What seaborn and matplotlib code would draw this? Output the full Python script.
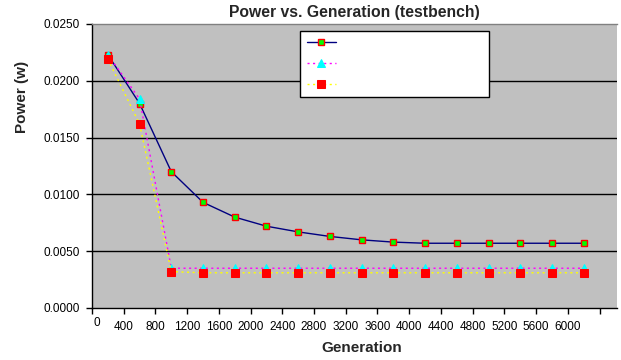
import matplotlib
matplotlib.use("Agg")
import matplotlib.pyplot as plt
import matplotlib.transforms as mtransforms
import seaborn as sns
import pandas as pd

generation = [200, 600, 1000, 1400, 1800, 2200, 2600, 3000, 3400, 3800,
              4200, 4600, 5000, 5400, 5800, 6200]
series_a = [0.0223, 0.0180, 0.0120, 0.0093, 0.0080, 0.0072, 0.0067, 0.0063,
            0.0060, 0.0058, 0.0057, 0.0057, 0.0057, 0.0057, 0.0057, 0.0057]
series_b = [0.0223, 0.0184, 0.0035, 0.0035, 0.0035, 0.0035, 0.0035, 0.0035,
            0.0035, 0.0035, 0.0035, 0.0035, 0.0035, 0.0035, 0.0035, 0.0035]
series_c = [0.0219, 0.0162, 0.0032, 0.0031, 0.0031, 0.0031, 0.0031, 0.0031,
            0.0031, 0.0031, 0.0031, 0.0031, 0.0031, 0.0031, 0.0031, 0.0031]
x_ticks = [0, 400, 800, 1200, 1600, 2000, 2400, 2800, 3200, 3600, 4000,
           4400, 4800, 5200, 5600, 6000, 6400]
x_tick_labels = [str(t) for t in x_ticks[:-1]] + [""]
y_ticks = [0.0, 0.005, 0.010, 0.015, 0.020, 0.025]

sns.set_theme(style="white")
plt.rcParams["font.family"] = ["Liberation Sans", "DejaVu Sans"]

df = pd.DataFrame({"gen": generation, "a": series_a, "b": series_b, "c": series_c})

fig = plt.figure(figsize=(6.21, 3.6), dpi=100)
ax = fig.add_axes([92 / 621, 1 - 308 / 360, (617 - 92) / 621, (308 - 24) / 360])
ax.set_facecolor("#C0C0C0")

sns.lineplot(data=df, x="gen", y="a", ax=ax, color="#000080", linewidth=1.0,
             marker="s", markersize=5, markerfacecolor="#00FF00",
             markeredgecolor="#FF0000", markeredgewidth=1.0, zorder=3)
sns.lineplot(data=df, x="gen", y="b", ax=ax, color="#FF00FF", linewidth=1.0,
             linestyle=(0, (1.5, 2.5)), marker="^", markersize=5.5,
             markerfacecolor="#00FFFF", markeredgecolor="#00FFFF", zorder=4)
sns.lineplot(data=df, x="gen", y="c", ax=ax, color="#FFFF00", linewidth=1.0,
             linestyle=(0, (1.5, 2.5)), marker="s", markersize=5.5,
             markerfacecolor="#FF0000", markeredgecolor="#FF0000", zorder=5)
series_lines = list(ax.lines[:3])

ax.set_xlim(0, 6620)
ax.set_ylim(0, 0.025)
ax.set_yticks(y_ticks)
ax.set_yticklabels([f"{v:.4f}" for v in y_ticks])
ax.set_xticks(x_ticks)
ax.set_xticklabels(x_tick_labels)
ax.set_xlabel("")
ax.set_ylabel("")
for y in y_ticks[1:-1]:
    ax.axhline(y, color="black", linewidth=1.0, zorder=1)

ax.tick_params(axis="both", which="both", direction="out", length=4, width=1,
               color="black", labelsize=8.5, labelcolor="black", bottom=True, left=True)
ax.tick_params(axis="y", pad=5)
ax.tick_params(axis="x", pad=5)
for side in ["left", "bottom"]:
    ax.spines[side].set_color("black")
    ax.spines[side].set_linewidth(1.0)
ax.spines["top"].set_color("#808080")
ax.spines["top"].set_linewidth(1.0)
ax.spines["right"].set_visible(False)

# the first x tick label sits a little higher and to the right in the reference
lbl0 = ax.get_xticklabels()[0]
lbl0.set_transform(lbl0.get_transform() +
                   mtransforms.ScaledTranslation(5 / 100, 3 / 100, fig.dpi_scale_trans))

# legend box (no text labels in the reference)
aw, ah = 525.0, 284.0
leg = ax.legend(series_lines, [" ", " ", " "], loc="upper left",
                bbox_to_anchor=((300 - 92) / aw, 1 - (31 - 24) / ah,
                                (489 - 300) / aw, 0.0),
                mode="expand", frameon=True, fancybox=False, edgecolor="black",
                facecolor="white", framealpha=1, fontsize=8, handlelength=2.6,
                borderpad=0.62, labelspacing=0.98, handletextpad=0.3,
                borderaxespad=0)
leg.get_frame().set_linewidth(1.0)

fig.text(354 / 621, 1 - 12 / 360, "Power vs. Generation (testbench)",
         ha="center", va="center", fontsize=11.3, fontweight="bold")
fig.text(362 / 621, 1 - 348 / 360, "Generation", ha="center", va="center",
         fontsize=11, fontweight="bold")
fig.text(22 / 621, 1 - 97 / 360, "Power (w)", ha="center", va="center",
         rotation=90, fontsize=11, fontweight="bold")

fig.savefig("out.png", dpi=100, facecolor="white")
